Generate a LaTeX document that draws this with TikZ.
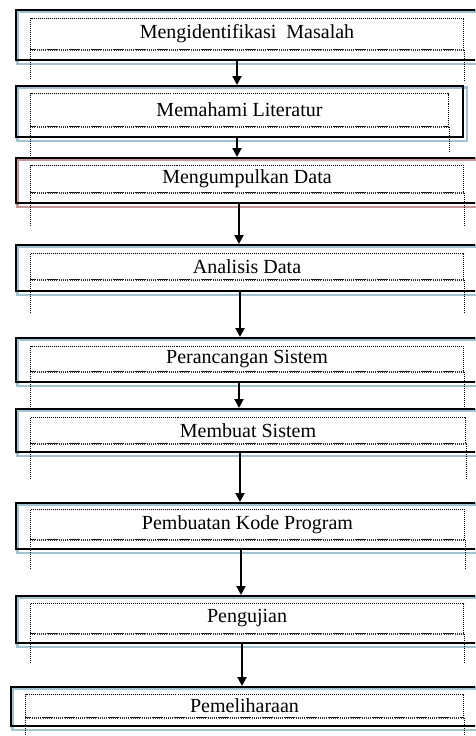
\documentclass[tikz,border=0pt]{standalone}
\usepackage{fontspec}
\setmainfont{Liberation Serif}
\usetikzlibrary{arrows.meta,backgrounds}
\definecolor{shb}{RGB}{160,196,210}
\definecolor{shr}{RGB}{200,150,150}
\tikzset{
  outerbox/.style={draw=black, line width=2.4pt, inner sep=0pt, anchor=north west},
  innerbox/.style={draw=black, line width=1pt, dash pattern=on 1pt off 1pt, inner sep=0pt, anchor=north west, font=\fontsize{20}{24}\selectfont},
  dotline/.style={draw=black, line width=1pt, dash pattern=on 1pt off 1pt},
  botline/.style={draw=black!80, line width=1.4pt, dash pattern=on 1pt off 1.2pt},
  shadowline/.style={line width=2.2pt},
  arr/.style={draw=black, line width=2pt, -{Triangle[width=9pt,length=9pt]}}
}
\begin{document}
\begin{tikzpicture}[x=1pt,y=-1pt]
\useasboundingbox (0,0) rectangle (475,736);
\clip (0,0) rectangle (475,736);
% outer boxes
\node[outerbox, minimum width=475pt, minimum height=50pt] (o1) at (15,9) {};
\node[outerbox, minimum width=447pt, minimum height=51pt] (o2) at (15,85) {};
\node[outerbox, minimum width=475pt, minimum height=45pt] (o3) at (15,157) {};
\node[outerbox, minimum width=475pt, minimum height=46pt] (o4) at (15,244) {};
\node[outerbox, minimum width=475pt, minimum height=44pt] (o5) at (15,337) {};
\node[outerbox, minimum width=475pt, minimum height=43pt] (o6) at (15,408) {};
\node[outerbox, minimum width=475pt, minimum height=46pt] (o7) at (15,502) {};
\node[outerbox, minimum width=475pt, minimum height=47pt] (o8) at (15,595) {};
\node[outerbox, minimum width=480pt, minimum height=39pt] (o9) at (10,686) {};
% shadows
\begin{scope}[on background layer]
\foreach \b/\c in {o1/shb,o2/shb,o3/shr,o4/shb,o5/shb,o6/shb,o7/shb,o8/shb,o9/shb}{
  \draw[shadowline, draw=\c] ([shift={(2.5,2.5)}]\b.north west) rectangle ([shift={(2.5,2.5)}]\b.south east);
}
\end{scope}
% inner dotted frames with text
\node[innerbox, minimum width=433pt, minimum height=31pt] (t1) at (30,18) {Mengidentifikasi\ \ Masalah};
\node[innerbox, minimum width=418pt, minimum height=33pt] (t2) at (30,93) {Memahami Literatur};
\node[innerbox, minimum width=433pt, minimum height=27pt] (t3) at (30,165) {Mengumpulkan Data};
\node[innerbox, minimum width=433pt, minimum height=26pt] (t4) at (30,253) {Analisis Data};
\node[innerbox, minimum width=433pt, minimum height=25pt] (t5) at (30,346) {Perancangan Sistem};
\node[innerbox, minimum width=435pt, minimum height=26pt] (t6) at (30,417) {Membuat Sistem};
\node[innerbox, minimum width=434pt, minimum height=30pt] (t7) at (30,509) {Pembuatan Kode Program};
\node[innerbox, minimum width=433pt, minimum height=30pt] (t8) at (30,603) {Pengujian};
\node[innerbox, minimum width=438pt, minimum height=23pt] (t9) at (25,694) {Pemeliharaan};
% heavier dotted bottoms
\foreach \t in {t1,t2,t3,t4,t5,t6,t7,t8,t9}{
  \draw[botline] (\t.south west) -- (\t.south east);
}
% dotted extensions
\draw[dotline] (t1.south west) -- ++(0,30);
\draw[dotline] (t1.south east) -- ++(0,31);
\draw[dotline] (t2.south west) -- ++(0,29);
\draw[dotline] (t2.south east) -- ++(0,26);
\foreach \t/\e in {t3/34,t4/34,t5/36,t6/35,t7/29,t8/30,t9/25}{
  \draw[dotline] (\t.south west) -- ++(0,\e);
  \draw[dotline] (\t.south east) -- ++(0,\e);
}
% arrow columns
\coordinate (a1) at (237,0);
\coordinate (a2) at (237,0);
\coordinate (a3) at (239,0);
\coordinate (a4) at (240,0);
\coordinate (a5) at (239,0);
\coordinate (a6) at (240,0);
\coordinate (a7) at (241,0);
\coordinate (a8) at (242,0);
\draw[arr] (o1.south -| a1) -- (o2.north -| a1);
\draw[arr] (o2.south -| a2) -- (o3.north -| a2);
\draw[arr] (o3.south -| a3) -- (o4.north -| a3);
\draw[arr] (o4.south -| a4) -- (o5.north -| a4);
\draw[arr] (o5.south -| a5) -- (o6.north -| a5);
\draw[arr] (o6.south -| a6) -- (o7.north -| a6);
\draw[arr] (o7.south -| a7) -- (o8.north -| a7);
\draw[arr] (o8.south -| a8) -- (o9.north -| a8);
\end{tikzpicture}
\end{document}
